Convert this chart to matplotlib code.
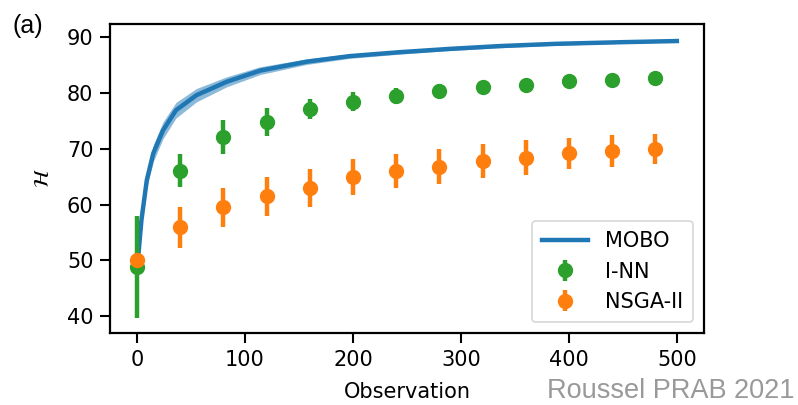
import numpy as np
import matplotlib.pyplot as plt

# ==============================
# DATA
# ==============================
mobo_x = [0, 1, 4, 9, 15, 24, 36, 55, 83, 114, 157, 197, 243, 290, 336, 388, 450, 500]
mobo_y = [49.6, 50.6, 57.2, 64.4, 69.2, 73.3, 76.9, 79.6, 82.0, 84.0, 85.6, 86.6, 87.3, 87.9, 88.4, 88.8, 89.1, 89.3]
mobo_band = [0.3, 0.6, 1.0, 1.3, 1.5, 1.5, 1.4, 1.2, 0.9, 0.7, 0.5, 0.4, 0.35, 0.3, 0.3, 0.25, 0.2, 0.2]

obs = [0, 40, 80, 120, 160, 200, 240, 280, 320, 360, 400, 440, 480]
inn_mean = [48.8, 66.1, 72.1, 74.8, 77.2, 78.4, 79.4, 80.4, 81.1, 81.5, 82.1, 82.4, 82.7]
inn_err = [9.2, 3.0, 3.0, 2.5, 1.8, 1.7, 1.4, 1.2, 1.1, 1.0, 0.9, 0.8, 0.8]
nsga_mean = [50.0, 55.9, 59.5, 61.5, 63.0, 64.9, 66.0, 66.8, 67.8, 68.4, 69.2, 69.6, 70.0]
nsga_err = [0.6, 3.7, 3.5, 3.5, 3.4, 3.2, 3.1, 3.1, 3.1, 3.1, 2.8, 2.8, 2.7]

blue = "#1f77b4"
green = "#2ca02c"
orange = "#ff7f0e"

# ==============================
# PLOT
# ==============================
fig = plt.figure(figsize=(7.98, 4.05), dpi=100)
ax = fig.add_axes([0.138, 0.178, 0.744, 0.762])

lo = np.array(mobo_y) - np.array(mobo_band)
hi = np.array(mobo_y) + np.array(mobo_band)
ax.fill_between(mobo_x, lo, hi, color=blue, alpha=0.5, lw=0)
ax.plot(mobo_x, mobo_y, color=blue, lw=3.2, label="MOBO")

ax.errorbar(obs, inn_mean, yerr=inn_err, fmt="o", color=green, ms=10,
            elinewidth=3.2, capsize=0, label="I-NN")
ax.errorbar(obs, nsga_mean, yerr=nsga_err, fmt="o", color=orange, ms=10,
            elinewidth=3.2, capsize=0, label="NSGA-II")

ax.set_xlim(-25, 525)
ax.set_ylim(37.0, 92.3)
ax.set_xticks([0, 100, 200, 300, 400, 500])
ax.set_yticks([40, 50, 60, 70, 80, 90])
ax.tick_params(labelsize=15, length=7, width=1.5, pad=5)
for s in ax.spines.values():
    s.set_linewidth(1.6)

ax.set_xlabel("Observation", fontsize=15, labelpad=9)
ax.set_ylabel(r"$\mathcal{H}$", fontsize=15, labelpad=10)

leg = ax.legend(loc="lower right", fontsize=15, frameon=True,
                borderpad=0.5, handlelength=2.2, labelspacing=0.5,
                handletextpad=0.8)
leg.get_frame().set_linewidth(1.2)

fig.text(0.016, 0.965, "(a)", fontsize=18, family="Liberation Sans", va="top")
fig.text(0.995, 0.002, "Roussel PRAB 2021", fontsize=19.5, color="#999999",
         family="Liberation Sans", ha="right", va="bottom")

fig.savefig("out.png", dpi=100)
